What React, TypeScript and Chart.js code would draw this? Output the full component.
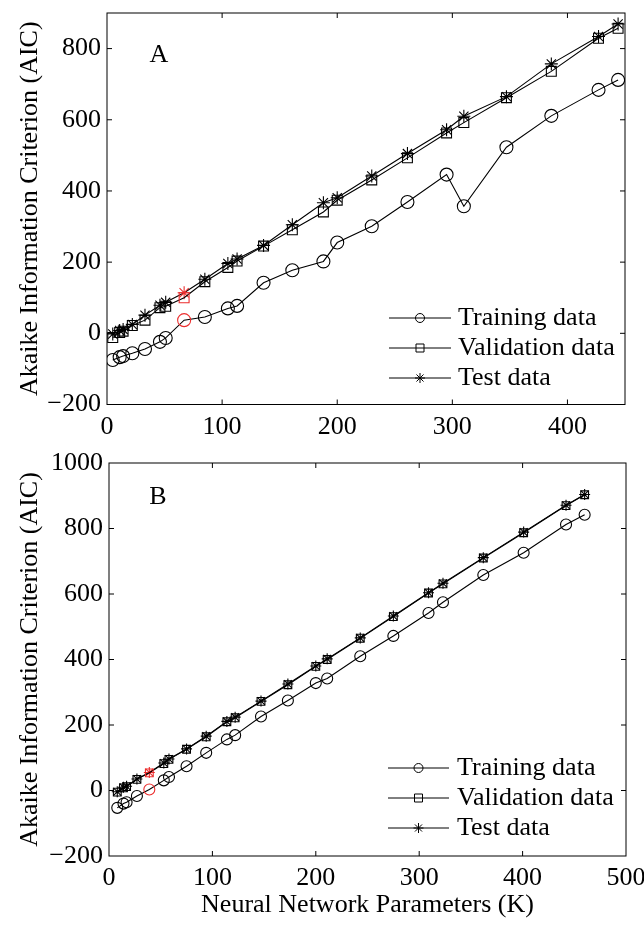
import React, { useEffect, useRef } from 'react';
import { Chart, registerables } from 'chart.js';

Chart.register(...registerables);

// ---------- data ----------
const seriesLabels = ['Training data', 'Validation data', 'Test data'];

const paramsA = [5, 11, 14, 22, 33, 46, 51, 67, 85, 105, 113, 136, 161, 188, 200, 230, 261, 295, 310, 347, 386, 427, 444];
const trainA = [-75, -67, -64, -56, -44, -24, -13, 37, 46, 70, 77, 142, 177, 202, 255, 301, 369, 446, 357, 523, 611, 684, 712];
const validA = [-12, 2, 6, 22, 37, 72, 76, 100, 145, 185, 203, 245, 291, 341, 374, 431, 493, 563, 592, 662, 736, 829, 857];
const testA = [-2, 8, 11, 25, 51, 79, 87, 114, 152, 196, 209, 247, 305, 367, 381, 442, 505, 572, 610, 665, 757, 834, 869];
const redIndexA = 7;

const paramsB = [8, 14, 17, 27, 39, 53, 58, 75, 94, 114, 122, 147, 173, 200, 211, 243, 275, 309, 323, 362, 401, 442, 460];
const trainB = [-53, -40, -36, -17, 3, 31, 41, 74, 115, 156, 169, 226, 275, 328, 342, 410, 472, 542, 575, 658, 726, 812, 842];
const validB = [-5, 8, 12, 34, 54, 82, 95, 126, 164, 210, 222, 272, 323, 379, 400, 465, 531, 603, 631, 710, 787, 870, 903];
const testB = [-4, 10, 13, 35, 55, 84, 96, 127, 166, 211, 224, 273, 325, 380, 402, 466, 533, 604, 633, 711, 789, 871, 904];
const redIndexB = 4;

const xTicksStep = 100;
const yTicksStep = 200;

// ---------- styling ----------
const RED = 'rgb(235, 45, 45)';
const FONT = '"Liberation Serif", "Times New Roman", serif';
const FS = 26;

type Panel = {
  xs: number[];
  ys: number[][];
  redIndex: number;
  xMax: number;
  yMin: number;
  yMax: number;
  letter: string;
  letterPos: [number, number];
  legendRows: number[];
  legendX: [number, number, number];
  padTop: number;
  padRight: number;
  yAxisW: number;
  xAxisH: number;
  xTitle: string | null;
  radii: number[];
  height: number;
};

function drawMarker(ctx: CanvasRenderingContext2D, style: string, x: number, y: number, r: number) {
  ctx.beginPath();
  if (style === 'circle') {
    ctx.arc(x, y, r, 0, Math.PI * 2);
  } else if (style === 'rect') {
    ctx.rect(x - r, y - r, 2 * r, 2 * r);
  } else {
    for (let k = 0; k < 4; k++) {
      const a = (k * Math.PI) / 4;
      ctx.moveTo(x + Math.cos(a) * r, y + Math.sin(a) * r);
      ctx.lineTo(x - Math.cos(a) * r, y - Math.sin(a) * r);
    }
  }
  ctx.stroke();
}

const decoPlugin = {
  id: 'panelDeco',
  afterDraw(chart: any, _args: any, opts: any) {
    const ctx: CanvasRenderingContext2D = chart.ctx;
    const { left, right, top, bottom } = chart.chartArea;
    const xs = chart.scales.x;
    const ys = chart.scales.y;
    const tl = 5;
    ctx.save();
    ctx.strokeStyle = '#000';
    ctx.lineWidth = 1;
    // frame
    ctx.strokeRect(left, top, right - left, bottom - top);
    // inward ticks
    ctx.beginPath();
    xs.ticks.forEach((t: any) => {
      const px = xs.getPixelForValue(t.value);
      if (px <= left + 1 || px >= right - 1) return;
      ctx.moveTo(px, bottom);
      ctx.lineTo(px, bottom - tl);
      ctx.moveTo(px, top);
      ctx.lineTo(px, top + tl);
    });
    ys.ticks.forEach((t: any) => {
      const py = ys.getPixelForValue(t.value);
      if (py <= top + 1 || py >= bottom - 1) return;
      ctx.moveTo(left, py);
      ctx.lineTo(left + tl, py);
      ctx.moveTo(right, py);
      ctx.lineTo(right - tl, py);
    });
    ctx.stroke();
    // panel letter
    ctx.fillStyle = '#000';
    ctx.font = `${FS}px ${FONT}`;
    ctx.textAlign = 'center';
    ctx.textBaseline = 'middle';
    ctx.fillText(opts.letter, opts.letterPos[0], opts.letterPos[1]);
    // legend
    const [x0, x1, tx] = opts.legendX;
    const styles = ['circle', 'rect', 'star'];
    const mr = [4.5, 4, 5];
    ctx.textAlign = 'left';
    chart.data.datasets.forEach((ds: any, i: number) => {
      const y = opts.legendRows[i];
      ctx.beginPath();
      ctx.moveTo(x0, y);
      ctx.lineTo(x1, y);
      ctx.stroke();
      drawMarker(ctx, styles[i], (x0 + x1) / 2, y, mr[i]);
      ctx.fillStyle = '#000';
      ctx.fillText(ds.label, tx, y);
    });
    ctx.restore();
  },
};

const fmt = (v: number) => (v < 0 ? '\u2212' + Math.abs(v) : String(v));

function buildConfig(p: Panel): any {
  const styles = ['circle', 'rect', 'star'];
  const datasets = p.ys.map((vals, k) => ({
    label: seriesLabels[k],
    data: p.xs.map((x, i) => ({ x, y: vals[i] })),
    borderColor: '#000',
    borderWidth: 1.1,
    pointStyle: styles[k],
    pointRadius: p.radii[k],
    pointHoverRadius: p.radii[k],
    pointBorderWidth: 1.1,
    pointBackgroundColor: 'rgba(0,0,0,0)',
    pointBorderColor: p.xs.map((_, i) => (i === p.redIndex ? RED : '#000')),
    tension: 0,
    fill: false,
  }));
  const tickFont = { family: FONT, size: FS };
  return {
    type: 'line',
    data: { datasets },
    plugins: [decoPlugin],
    options: {
      responsive: false,
      animation: false,
      events: [],
      layout: { padding: { top: p.padTop, right: p.padRight, left: 0, bottom: 0 } },
      plugins: {
        legend: { display: false },
        tooltip: { enabled: false },
        panelDeco: {
          letter: p.letter,
          letterPos: p.letterPos,
          legendRows: p.legendRows,
          legendX: p.legendX,
        },
      },
      scales: {
        x: {
          type: 'linear',
          min: 0,
          max: p.xMax,
          grid: { display: false, drawTicks: false },
          border: { display: false },
          ticks: {
            stepSize: xTicksStep,
            includeBounds: false,
            padding: 7,
            color: '#000',
            font: tickFont,
            maxRotation: 0,
            autoSkip: false,
            callback: (v: number) => fmt(v),
          },
          title: p.xTitle
            ? { display: true, text: p.xTitle, color: '#000', font: tickFont, padding: { top: 0, bottom: 6 } }
            : { display: false },
          afterFit: (s: any) => {
            s.height = p.xAxisH;
            s.paddingLeft = 0;
            s.paddingRight = 0;
          },
        },
        y: {
          type: 'linear',
          min: p.yMin,
          max: p.yMax,
          grid: { display: false, drawTicks: false },
          border: { display: false },
          ticks: {
            stepSize: yTicksStep,
            includeBounds: false,
            padding: 6,
            color: '#000',
            font: tickFont,
            autoSkip: false,
            callback: (v: number) => fmt(v),
          },
          title: {
            display: true,
            text: 'Akaike Information Criterion (AIC)',
            color: '#000',
            font: tickFont,
            padding: { top: 15, bottom: 0 },
          },
          afterFit: (s: any) => {
            s.width = p.yAxisW;
            s.paddingTop = 0;
            s.paddingBottom = 0;
          },
        },
      },
    },
  };
}

const panelA: Panel = {
  xs: paramsA,
  ys: [trainA, validA, testA],
  redIndex: redIndexA,
  xMax: 450,
  yMin: -200,
  yMax: 900,
  letter: 'A',
  letterPos: [159, 55],
  legendRows: [318, 348, 378],
  legendX: [389, 451, 458],
  padTop: 13,
  padRight: 19,
  yAxisW: 107,
  xAxisH: 35.5,
  xTitle: null,
  radii: [6.5, 7, 6.5],
  height: 440,
};

const panelB: Panel = {
  xs: paramsB,
  ys: [trainB, validB, testB],
  redIndex: redIndexB,
  xMax: 500,
  yMin: -200,
  yMax: 1000,
  letter: 'B',
  letterPos: [158, 57],
  legendRows: [328, 358, 388],
  legendX: [388, 449, 457],
  padTop: 23,
  padRight: 18,
  yAxisW: 109,
  xAxisH: 71,
  xTitle: 'Neural Network Parameters (K)',
  radii: [5.5, 5.5, 5.5],
  height: 487,
};

function Panel({ panel, top }: { panel: Panel; top: number }) {
  const ref = useRef<HTMLCanvasElement | null>(null);
  useEffect(() => {
    if (!ref.current) return;
    const chart = new Chart(ref.current, buildConfig(panel));
    return () => chart.destroy();
  }, [panel]);
  return (
    <canvas
      ref={ref}
      width={644}
      height={panel.height}
      style={{ position: 'absolute', left: 0, top, width: 644, height: panel.height, display: 'block' }}
    />
  );
}

export default function App() {
  return (
    <div style={{ position: 'absolute', left: 0, top: 0, width: 644, height: 927, background: '#fff' }}>
      <Panel panel={panelA} top={0} />
      <Panel panel={panelB} top={440} />
    </div>
  );
}
